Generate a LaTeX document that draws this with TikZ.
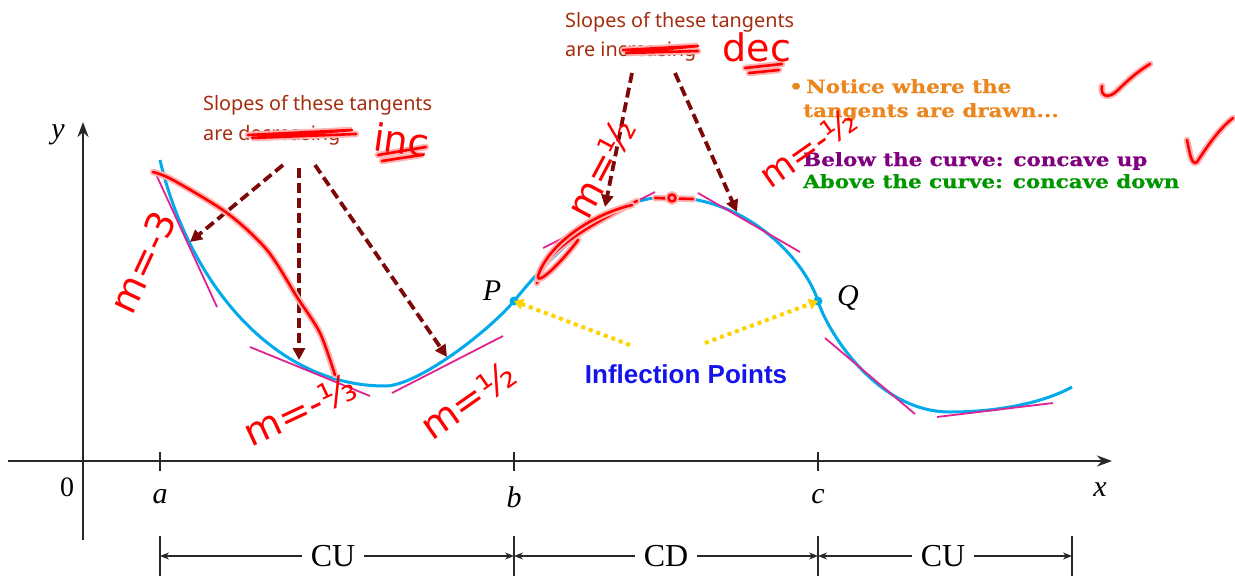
\documentclass[tikz,border=0pt]{standalone}
\usepackage{fontspec}
\setmainfont{Liberation Serif}
\newfontfamily\sansA{Noto Sans}
\newfontfamily\slab{DejaVu Serif}[FakeStretch=1.17,BoldFeatures={FakeBold=0.7}]
\newfontfamily\arialb{Liberation Sans}
\newfontfamily\hand{DejaVu Sans}
\usetikzlibrary{arrows.meta}
\definecolor{curveblue}{RGB}{0,170,235}
\definecolor{tanpink}{RGB}{225,35,145}
\definecolor{darkred}{RGB}{125,8,8}
\definecolor{brownred}{RGB}{165,45,15}
\definecolor{gold}{RGB}{255,210,0}
\definecolor{infblue}{RGB}{20,20,235}
\definecolor{orng}{RGB}{235,135,30}
\definecolor{purp}{RGB}{128,0,128}
\definecolor{grn}{RGB}{0,150,0}
\definecolor{axisgray}{RGB}{40,40,40}
\begin{document}
\begin{tikzpicture}[x=1pt,y=-1pt,
  axisline/.style={draw=axisgray,line width=2.6},
  tickline/.style={draw=axisgray,line width=1.2},
  curve/.style={draw=curveblue,line width=3},
  tanline/.style={draw=tanpink,line width=1.8},
  hintarrow/.style={draw=darkred,line width=3.8,dash pattern=on 10 off 5,-{Triangle[length=12,width=12]}},
  yelarrow/.style={draw=gold,line width=4,dash pattern=on 4 off 4,-{Triangle[length=9,width=11]}},
  ink/.style={draw=red,line width=2.6,line cap=round,line join=round,preaction={draw=red!30,line width=6.5,line cap=round}},
  hw/.style={text=red,font=\hand\fontsize{38}{38}\selectfont,inner sep=0},
  brown/.style={text=brownred,font=\sansA\fontsize{19.8}{24}\selectfont,inner sep=0,anchor=base west},
  slabtxt/.style={font=\slab\bfseries\fontsize{18.3}{20}\selectfont,inner sep=0,anchor=base west},
  lab/.style={font=\itshape\fontsize{30}{30}\selectfont,inner sep=0},
  dimlab/.style={font=\fontsize{32}{32}\selectfont,inner sep=9},
  dim/.style={draw=axisgray,line width=1.1,-{Stealth[length=9,width=7]}}]
\useasboundingbox[fill=white] (0,0) rectangle (1235,576);

% axes
\coordinate (xs) at (8,461); \coordinate (xe) at (1112,461);
\coordinate (ys) at (83,540); \coordinate (ye) at (83,122);
\draw[axisline,-{Stealth[length=15,width=11]}] (xs) -- (xe);
\draw[axisline,-{Stealth[length=15,width=11]}] (ys) -- (ye);
\foreach \t in {160,514,818}{\draw[tickline] (\t,452) -- (\t,471);}
\node[lab] (ylab) at (58,135) {y};
\node[lab] (xlab) at (1100,490) {x};
\node[font=\fontsize{28}{28}\selectfont,inner sep=0] (zero) at (67,487) {0};
\node[lab] (alab) at (160,497) {a};
\node[lab] (blab) at (514,497) {b};
\node[lab] (clab) at (818,497) {c};

% dimension line
\foreach \t in {160,514,818,1072}{\draw[tickline] (\t,536) -- (\t,576);}
\coordinate (da) at (160,556); \coordinate (db) at (514,556);
\coordinate (dc) at (818,556); \coordinate (dd) at (1072,556);
\node[dimlab] (cu1) at (333,556) {CU};
\node[dimlab] (cd) at (666,556) {CD};
\node[dimlab] (cu2) at (943,556) {CU};
\draw[dim] (cu1) -- (da); \draw[dim] (cu1) -- (db);
\draw[dim] (cd) -- (db); \draw[dim] (cd) -- (dc);
\draw[dim] (cu2) -- (dc); \draw[dim] (cu2) -- (dd);

% curve
\coordinate (P) at (514,301); \coordinate (Q) at (818,301);
\draw[curve] (160,160) .. controls (188,280) and (272,386) .. (385,386)
  .. controls (418,386) and (490,330) .. (P)
  .. controls (538,272) and (600,197) .. (667,197)
  .. controls (750,197) and (806,263) .. (Q)
  .. controls (826,328) and (875,412) .. (950,412)
  .. controls (1000,412) and (1045,402) .. (1072,387);
\fill[curveblue] (P) circle (4.5);
\fill[curveblue] (Q) circle (4.5);

% tangents
\draw[tanline] (155,172) -- (217,307);
\draw[tanline] (250,347) -- (370,396);
\draw[tanline] (392,393) -- (503,336);
\draw[tanline] (543,248) -- (655,192);
\draw[tanline] (698,193) -- (800,252);
\draw[tanline] (825,338) -- (915,414);
\draw[tanline] (937,417) -- (1053,403);

\node[lab] (Plab) at (492,291) {P};
\node[lab] (Qlab) at (848,298) {Q};

% inflection
\node[font=\arialb\bfseries\fontsize{26}{26}\selectfont,text=infblue,inner sep=0] (infl) at (686,374) {Inflection Points};
\coordinate (y1) at (630,345); \coordinate (y2) at (705,343);
\draw[yelarrow] (y1) -- (P);
\draw[yelarrow] (y2) -- (Q);

% left annotation
\node[brown] (sl1) at (203,110) {Slopes of these tangents};
\node[brown] (sl2) at (203,140) {are decreasing};
\coordinate (d1) at (283,165); \coordinate (d2) at (299,168); \coordinate (d3) at (315,165);
\coordinate (t1) at (190,242); \coordinate (t2) at (299,360); \coordinate (t3) at (447,357);
\draw[hintarrow] (d1) -- (t1);
\draw[hintarrow] (d2) -- (t2);
\draw[hintarrow] (d3) -- (t3);

% top annotation
\node[brown] (st1) at (565,27) {Slopes of these tangents};
\node[brown] (st2) at (565,56) {are increasing};
\coordinate (u1) at (632,73); \coordinate (u2) at (675,73);
\coordinate (v1) at (605,207); \coordinate (v2) at (737,212);
\draw[hintarrow] (u1) -- (v1);
\draw[hintarrow] (u2) -- (v2);

% right text block
\node[slabtxt,text=orng] (bul) at (789,93) {\textbullet};
\node[slabtxt,text=orng] (n1) at (806,93) {Notice where the};
\node[slabtxt,text=orng] (n2) at (803,117) {tangents are drawn...};
\node[slabtxt,text=purp] (n3) at (803,166) {Below the curve: concave up};
\node[slabtxt,text=grn] (n4) at (803,188) {Above the curve: concave down};

% handwritten ink
\draw[ink] (248,135) -- (352,130) -- (252,138) -- (356,134);
\draw[ink] (623,50) -- (698,46) -- (626,53) -- (698,51);
\draw[ink] plot[smooth] coordinates {(153,172) (173,180) (227,213) (267,250) (297,297) (320,333) (335,375)};
\draw[ink] (537,283) .. controls (540,255) and (580,230) .. (637,201);
\draw[ink] (632,205) .. controls (590,215) and (548,245) .. (538,276) .. controls (536,287) and (562,262) .. (578,240);
\draw[ink] (655,198) -- (693,199);
\draw[ink] (672,198) circle (3.5);
\draw[ink] (378,155) -- (426,147); \draw[ink] (382,161) -- (421,155);
\draw[ink] (745,68) -- (782,64); \draw[ink] (749,73) -- (779,70);
\draw[ink] (1102,86) .. controls (1100,96) and (1108,100) .. (1118,90) .. controls (1130,78) and (1140,70) .. (1150,64);
\draw[ink] (1187,140) .. controls (1190,155) and (1192,166) .. (1197,162) .. controls (1208,145) and (1220,128) .. (1233,118);

\node[hw,rotate=65] (h1) at (143,262) {m=-3};
\node[hw,rotate=25] (h2) at (300,410) {m=-⅓};
\node[hw,rotate=35] (h3) at (468,400) {m=½};
\node[hw,rotate=62] (h4) at (601,168) {m=½};
\node[hw,rotate=35,font=\hand\fontsize{35}{35}\selectfont] (h5) at (808,148) {m=-½};
\node[hw,rotate=-8] (h6) at (402,140) {inc};
\node[hw] (h7) at (757,47) {dec};
\end{tikzpicture}
\end{document}
